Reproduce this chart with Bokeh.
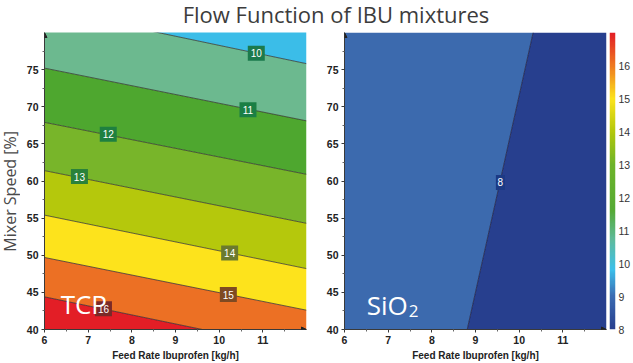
import numpy as np
from bokeh.plotting import figure
from bokeh.models import (FixedTicker, LinearColorMapper, Div, Arrow, NormalHead)
from bokeh.layouts import column, row
from bokeh.embed import file_html
from bokeh.resources import INLINE
from bokeh.core.properties import value

# ---------------- data ----------------
title_text = "Flow Function of IBU mixtures"
x_label = "Feed Rate Ibuprofen [kg/h]"
y_label = "Mixer Speed [%]"
x_ticks = [6, 7, 8, 9, 10, 11]
y_ticks = [40, 45, 50, 55, 60, 65, 70, 75]
cb_ticks = [8, 9, 10, 11, 12, 13, 14, 15, 16]
x_lims = (6, 12)
y_lims = (40, 80)
cb_lims = (8, 17)

# TCP panel: contour levels, read as straight lines at x=6 and x=12
tcp_levels = [10, 11, 12, 13, 14, 15, 16]
tcp_y_at_x6 = [83.2, 75.2, 67.9, 61.4, 55.4, 49.7, 44.4]
tcp_y_at_x12 = [75.8, 68.1, 60.9, 54.3, 48.2, 42.6, 37.1]
tcp_band_colors = ["#3bbde8", "#6cb98f", "#4ea72f", "#78b52a",
                   "#b5c80c", "#fde31c", "#ec7024", "#e31e26"]
tcp_label_x = [10.85, 10.66, 7.46, 6.80, 10.24, 10.21, 7.35]
tcp_label_y = [77.2, 69.6, 66.3, 60.6, 50.3, 44.7, 42.8]
tcp_label_box = ["#1b7a4c", "#1b7f45", "#1e8040", "#2a823a",
                 "#6b7a2e", "#7f4a22", "#7a2a28"]

# SiO2 panel: one contour level
sio2_levels = [8]
sio2_x_at_y40 = [8.81]
sio2_x_at_y80 = [10.32]
sio2_band_colors = ["#3c6aae", "#273f8e"]
sio2_label_x = [9.57]
sio2_label_y = [59.8]
sio2_label_box = ["#1c3a85"]

# colour scale anchors
cb_anchor_vals = [8, 9, 9.8, 10.7, 11.6, 13, 14, 15, 16, 17]
cb_anchor_cols = ["#283f8f", "#3b6cb3", "#3cc0ec", "#5fbb9e", "#55aa35",
                  "#6eb42a", "#b3c80b", "#fde41c", "#ef7a20", "#e31e26"]

# ---------------- styling helpers ----------------
TICK_FONT = "Liberation Sans"
FIG_H = 331


def style_axes(p):
    for ax in [p.xaxis[0], p.yaxis[0]]:
        ax.axis_line_color = "#3a3a3a"
        ax.major_tick_line_color = "#3a3a3a"
        ax.minor_tick_line_color = "#666666"
        ax.major_tick_out = 3
        ax.major_tick_in = 0
        ax.minor_tick_out = 2
        ax.minor_tick_in = 0
        ax.major_label_text_font = TICK_FONT
        ax.major_label_text_font_style = "bold"
        ax.major_label_text_font_size = "10.5px"
        ax.major_label_text_color = "#222222"
        ax.major_label_standoff = 3
    p.xaxis.ticker = FixedTicker(ticks=x_ticks, minor_ticks=[t + 0.5 for t in x_ticks])
    p.yaxis.ticker = FixedTicker(ticks=y_ticks, minor_ticks=[t + 2.5 for t in y_ticks])
    p.xaxis.axis_label = x_label
    p.xaxis.axis_label_text_font = TICK_FONT
    p.xaxis.axis_label_text_font_style = "bold"
    p.xaxis.axis_label_text_font_size = "10px"
    p.xaxis.axis_label_text_color = "#222222"
    p.xaxis.axis_label_standoff = 3
    p.grid.visible = False
    p.outline_line_color = None
    # little arrow heads at axis ends
    p.add_layout(Arrow(end=NormalHead(size=5, fill_color="#222222", line_color="#222222"),
                       x_start=x_lims[0], y_start=y_lims[1] - 0.5,
                       x_end=x_lims[0], y_end=y_lims[1], line_alpha=0))
    p.add_layout(Arrow(end=NormalHead(size=5, fill_color="#222222", line_color="#222222"),
                       x_start=x_lims[1] - 0.05, y_start=y_lims[0],
                       x_end=x_lims[1], y_end=y_lims[0], line_alpha=0))


def make_fig(width, border_left, border_right):
    p = figure(width=width, height=FIG_H, x_range=x_lims, y_range=y_lims,
               output_backend="svg", toolbar_location=None,
               min_border_left=border_left, min_border_right=border_right,
               min_border_top=0, min_border_bottom=34)
    return p


# ---------------- y-axis title strip ----------------
p0 = figure(width=20, height=FIG_H, x_range=(0, 20), y_range=(0, FIG_H),
            output_backend="svg", toolbar_location=None,
            min_border=0, x_axis_location=None, y_axis_location=None)
p0.grid.visible = False
p0.outline_line_color = None
p0.text([9.5], [FIG_H - 177], text=[y_label], angle=np.pi / 2,
        text_align="center", text_baseline="middle",
        text_font=value("Open Sans"), text_font_size="16px", text_color="#4a4a4a")

# ---------------- TCP panel ----------------
p1 = make_fig(300, 24, 14)
x0, x1 = x_lims
far_hi = y_lims[1] + 30
far_lo = y_lims[0] - 30
band_xs, band_ys = [], []
band_xs.append([x0, x1, x1, x0])
band_ys.append([tcp_y_at_x6[0], tcp_y_at_x12[0], far_hi, far_hi])
for i in range(len(tcp_levels) - 1):
    band_xs.append([x0, x1, x1, x0])
    band_ys.append([tcp_y_at_x6[i], tcp_y_at_x12[i], tcp_y_at_x12[i + 1], tcp_y_at_x6[i + 1]])
band_xs.append([x0, x1, x1, x0])
band_ys.append([tcp_y_at_x6[-1], tcp_y_at_x12[-1], far_lo, far_lo])
p1.patches(band_xs, band_ys, fill_color=tcp_band_colors, line_color=None)
p1.multi_line([[x0, x1] for _ in tcp_levels],
              [[a, b] for a, b in zip(tcp_y_at_x6, tcp_y_at_x12)],
              line_color="#2b2b2b", line_width=0.9, line_alpha=0.8)
p1.rect(tcp_label_x, tcp_label_y, width=[8 * len(str(v)) + 1 for v in tcp_levels], height=15,
        width_units="screen", height_units="screen",
        fill_color=tcp_label_box, line_color=None)
p1.text(tcp_label_x, tcp_label_y, text=[str(v) for v in tcp_levels],
        text_color="white", text_font=value(TICK_FONT), text_font_size="10px",
        text_align="center", text_baseline="middle")
p1.text([6.37], [43.45], text=["TCP"], text_color="white",
        text_font=value("Open Sans"), text_font_size="26px",
        text_align="left", text_baseline="alphabetic")
style_axes(p1)

# ---------------- SiO2 panel ----------------
p2 = make_fig(288, 24, 2)
lo, hi = y_lims
p2.patches([[x0, sio2_x_at_y40[0], sio2_x_at_y80[0], x0],
            [sio2_x_at_y40[0], x1, x1, sio2_x_at_y80[0]]],
           [[lo, lo, hi, hi], [lo, lo, hi, hi]],
           fill_color=sio2_band_colors, line_color=None)
p2.multi_line([[a, b] for a, b in zip(sio2_x_at_y40, sio2_x_at_y80)],
              [[lo, hi] for _ in sio2_levels],
              line_color="#1a1a3a", line_width=0.9, line_alpha=0.8)
p2.rect(sio2_label_x, sio2_label_y, width=[8 * len(str(v)) + 1 for v in sio2_levels], height=15,
        width_units="screen", height_units="screen",
        fill_color=sio2_label_box, line_color=None)
p2.text(sio2_label_x, sio2_label_y, text=[str(v) for v in sio2_levels],
        text_color="white", text_font=value(TICK_FONT), text_font_size="10px",
        text_align="center", text_baseline="middle")
p2.text([6.51], [43.3], text=["SiO"], text_color="white",
        text_font=value("Open Sans"), text_font_size="26px",
        text_align="left", text_baseline="alphabetic")
p2.text([7.47], [42.45], text=["2"], text_color="white",
        text_font=value("Open Sans"), text_font_size="17px",
        text_align="left", text_baseline="alphabetic")
style_axes(p2)

# ---------------- colour bar ----------------
def hex2rgb(h):
    return np.array([int(h[i:i + 2], 16) for i in (1, 3, 5)], dtype=float)

steps = np.linspace(cb_lims[0], cb_lims[1], 256)
anchor_rgb = np.array([hex2rgb(c) for c in cb_anchor_cols])
pal = []
for s in steps:
    r = np.interp(s, cb_anchor_vals, anchor_rgb[:, 0])
    g = np.interp(s, cb_anchor_vals, anchor_rgb[:, 1])
    b = np.interp(s, cb_anchor_vals, anchor_rgb[:, 2])
    pal.append("#%02x%02x%02x" % (int(r), int(g), int(b)))
mapper = LinearColorMapper(palette=pal, low=cb_lims[0], high=cb_lims[1])

p3 = figure(width=25, height=FIG_H, x_range=(0, 1), y_range=cb_lims,
            output_backend="svg", toolbar_location=None,
            min_border_left=1, min_border_right=16, min_border_top=0, min_border_bottom=28,
            y_axis_location="right", x_axis_location=None)
p3.image(image=[steps.reshape(-1, 1)], x=0, y=cb_lims[0], dw=1, dh=cb_lims[1] - cb_lims[0],
         color_mapper=mapper)
ax = p3.yaxis[0]
ax.ticker = FixedTicker(ticks=cb_ticks)
ax.axis_line_color = None
ax.major_tick_line_color = None
ax.minor_tick_line_color = None
ax.major_tick_out = 0
ax.major_tick_in = 0
ax.minor_tick_out = 0
ax.minor_tick_in = 0
ax.major_label_standoff = 3
ax.major_label_text_font = TICK_FONT
ax.major_label_text_font_size = "10.5px"
ax.major_label_text_color = "#333333"
p3.grid.visible = False
p3.outline_line_color = None

# ---------------- title ----------------
title = Div(text=('<div style="width:633px; box-sizing:border-box; '
                  'padding-left:39px; text-align:center; font-family:\'Open Sans\'; font-size:22px; '
                  'line-height:28px; color:#3c3c3c; white-space:nowrap;">' + title_text + '</div>'),
            width=633, height=32, margin=0)

layout = column(title, row(p0, p1, p2, p3))
open("out.html", "w").write(file_html(layout, INLINE))
